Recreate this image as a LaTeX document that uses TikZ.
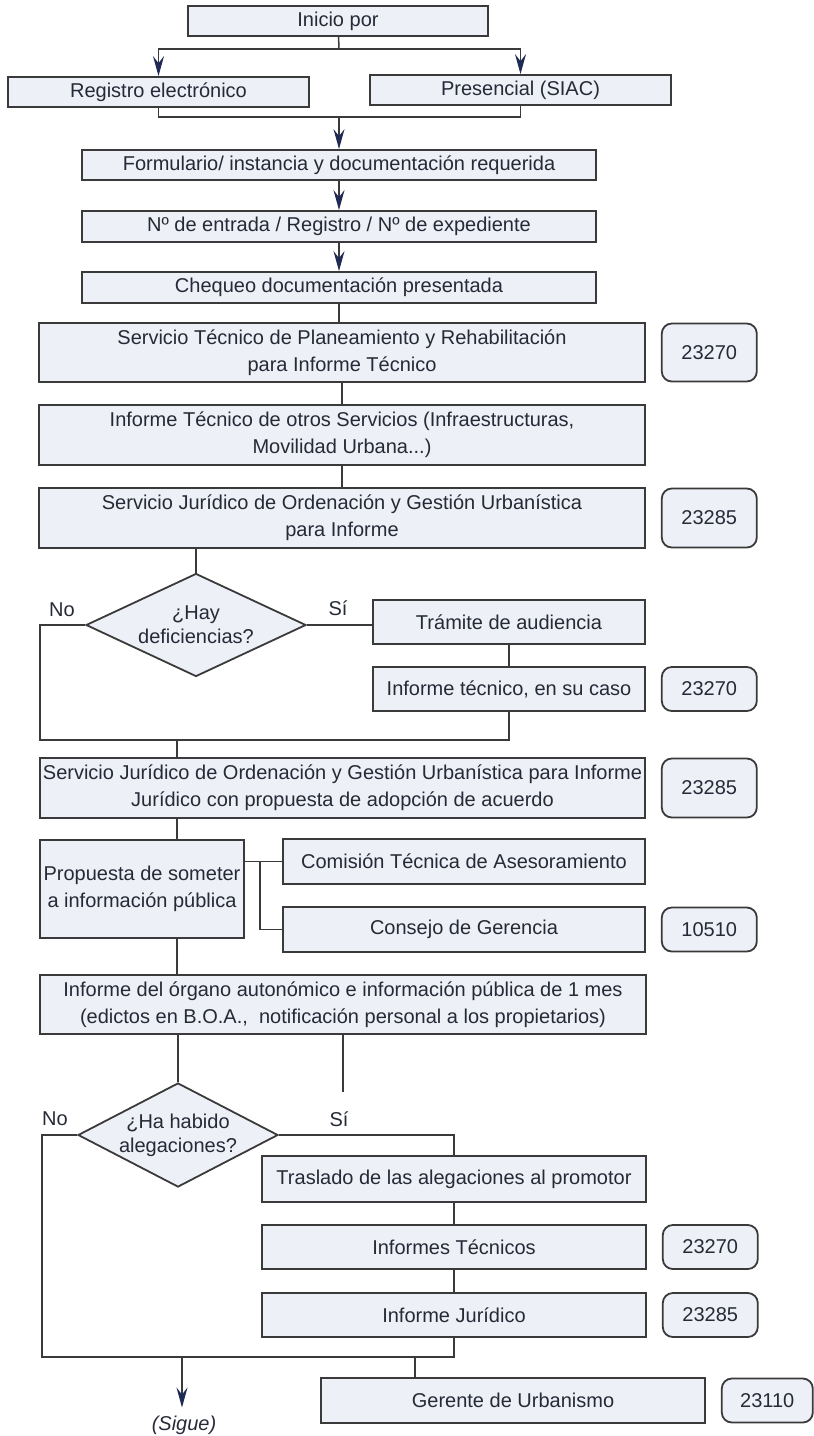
\documentclass[tikz,border=0pt]{standalone}
\usepackage{fontspec}
\setmainfont{Liberation Sans}
\usetikzlibrary{shapes.geometric,positioning,arrows.meta}
\definecolor{boxfill}{HTML}{EEF0F8}
\definecolor{boxline}{HTML}{3A3A3A}
\definecolor{tipcol}{HTML}{1F2A55}
\definecolor{textcol}{HTML}{262A36}

\begin{document}
\begin{tikzpicture}
  [x=1pt,y=-1pt,
   stepN/.style={draw=boxline,fill=boxfill,line width=1.8pt,inner sep=0pt,align=center,
     text=textcol,font=\fontsize{20}{27}\selectfont},
   codeN/.style={stepN,rounded corners=10pt,minimum width=95pt},
   askN/.style={stepN,diamond,aspect=#1,font=\fontsize{20}{24}\selectfont},
   linkN/.style={draw=boxline,line width=1.5pt},
   arrowN/.style={linkN,-{Stealth[length=20pt,width=11pt,inset=7pt,color=tipcol]}},
   labN/.style={text=textcol,font=\fontsize{20}{24}\selectfont,inner sep=0pt},
   node distance=15pt]

  \useasboundingbox (0,0) rectangle (814,1436);

  % entrada
  \node[stepN,minimum width=300pt,minimum height=30pt] (ini) at (338,21) {Inicio por};
  \node[stepN,minimum width=301pt,minimum height=30pt] (reg) at (158.5,92) {Registro electrónico};
  \node[stepN,minimum width=301pt,minimum height=30pt] (pre) at (520.5,90) {Presencial (SIAC)};
  \node[stepN,minimum width=514pt,minimum height=30pt] (form) at (339,165) {Formulario/ instancia y documentación requerida};
  \node[stepN,minimum width=514pt,minimum height=31pt] (num) at (339,226.5) {Nº de entrada / Registro / Nº de expediente};
  \node[stepN,minimum width=514pt,minimum height=31pt] (cheq) at (339,287.5) {Chequeo documentación presentada};

  % informes
  \node[stepN,minimum width=606pt,minimum height=59pt] (stp) at (342,352.5) {Servicio Técnico de Planeamiento y Rehabilitación\\para Informe Técnico};
  \node[codeN,minimum height=58pt] (c1) [right=of stp] {23270};
  \node[stepN,minimum width=606pt,minimum height=60pt] (otr) at (342,435) {Informe Técnico de otros Servicios (Infraestructuras,\\Movilidad Urbana...)};
  \node[stepN,minimum width=606pt,minimum height=60pt] (sj1) at (342,518) {Servicio Jurídico de Ordenación y Gestión Urbanística\\para Informe};
  \node[codeN,minimum height=59pt] (c2) [right=of sj1] {23285};

  % deficiencias
  \node[askN=2.14,minimum width=220pt,minimum height=103pt] (dec1) at (196,625) {¿Hay\\deficiencias?};
  \node[labN] (no1) at (62,610) {No};
  \node[labN] (si1) at (338,608) {Sí};
  \node[stepN,minimum width=272pt,minimum height=44pt] (tra) at (509,622) {Trámite de audiencia};
  \node[stepN,minimum width=272pt,minimum height=44pt] (itc) at (509,689) {Informe técnico, en su caso};
  \node[codeN,minimum height=44pt] (c3) [right=of itc] {23270};

  % propuesta
  \node[stepN,minimum width=605pt,minimum height=60pt] (sj2) at (342.5,788) {Servicio Jurídico de Ordenación y Gestión Urbanística para Informe\\Jurídico con propuesta de adopción de acuerdo};
  \node[codeN,minimum height=59pt] (c4) [right=of sj2] {23285};
  \node[stepN,minimum width=204pt,minimum height=98pt] (prop) at (142,889) {Propuesta de someter\\a información pública};
  \node[stepN,minimum width=362pt,minimum height=45pt] (com) at (464,861.5) {Comisión Técnica de Asesoramiento};
  \node[stepN,minimum width=362pt,minimum height=45pt] (con) at (464,929.5) {Consejo de Gerencia};
  \node[codeN,minimum height=44pt] (c5) [right=of con] {10510};
  \node[stepN,minimum width=606pt,minimum height=59pt] (org) at (343,1004.5) {Informe del órgano autonómico e información pública de 1 mes\\(edictos en B.O.A.,~ notificación personal a los propietarios)};

  % alegaciones
  \node[askN=1.92,minimum width=200pt,minimum height=104pt] (dec2) at (178,1135) {¿Ha habido\\alegaciones?};
  \node[labN] (no2) at (55,1119) {No};
  \node[labN] (si2) at (339,1119) {Sí};
  \node[stepN,minimum width=384pt,minimum height=46pt] (tras) at (454,1179) {Traslado de las alegaciones al promotor};
  \node[stepN,minimum width=384pt,minimum height=44pt] (its) at (454,1247) {Informes Técnicos};
  \node[codeN,minimum height=44pt] (c6) [right=of its] {23270};
  \node[stepN,minimum width=384pt,minimum height=44pt] (ijur) at (454,1315) {Informe Jurídico};
  \node[codeN,minimum height=44pt] (c7) [right=of ijur] {23285};
  \node[stepN,minimum width=384pt,minimum height=45pt] (ger) at (513,1400.5) {Gerente de Urbanismo};
  \node[codeN,minimum height=44pt,minimum width=91pt] (c8) [right=of ger] {23110};
  \node[labN,inner sep=8pt,font=\fontsize{20}{24}\selectfont\itshape] (sig) at (184,1425) {(Sigue)};

  \coordinate (split) at (339,49);
  \coordinate (merge) at (339,117);
  \coordinate (low1) at (40,740);
  \coordinate (m1) at (177,740);
  \coordinate (fork) at (260,862);
  \coordinate (stub) at (343,1092);
  \coordinate (low2) at (42,1357);
  \coordinate (out) at (182,1357);
  \coordinate (g1) at (415,1357);

  \draw[linkN] (ini) -- (split);
  \draw[arrowN] (split) -| (reg.north);
  \draw[arrowN] (split) -| (pre.north);
  \draw[linkN] (reg.south) |- (merge) -| (pre.south);
  \draw[arrowN] (merge) -- (form);
  \draw[arrowN] (form) -- (num);
  \draw[arrowN] (num) -- (cheq);
  \draw[linkN] (cheq.south) -- (cheq.south |- stp.north);
  \draw[linkN] (stp.south) -- (otr.north);
  \draw[linkN] (otr.south) -- (sj1.north);

  \draw[linkN] (dec1.north |- sj1.south) -- (dec1.north);
  \draw[linkN] (dec1.east) -- (dec1.east -| tra.west);
  \draw[linkN] (tra) -- (itc);
  \draw[linkN] (dec1.west) -| (low1) -| (itc.south);

  \draw[linkN] (m1) -- (m1 |- sj2.north);
  \draw[linkN] (m1 |- sj2.south) -- (m1 |- prop.north);
  \draw[linkN] (com.west -| prop.east) -- (com.west);
  \draw[linkN] (fork) |- (con.west);
  \draw[linkN] (m1 |- prop.south) -- (m1 |- org.north);

  \draw[linkN] (dec2.north |- org.south) -- (dec2.north);
  \draw[linkN] (stub |- org.south) -- (stub);
  \draw[linkN] (dec2.west) -| (low2) -| (ijur.south);
  \draw[linkN] (dec2.east) -| (tras.north);
  \draw[linkN] (tras) -- (its);
  \draw[linkN] (its) -- (ijur);
  \draw[arrowN] (out) -- (out |- sig.north);
  \draw[linkN] (g1) -- (g1 |- ger.north);
\end{tikzpicture}
\end{document}
